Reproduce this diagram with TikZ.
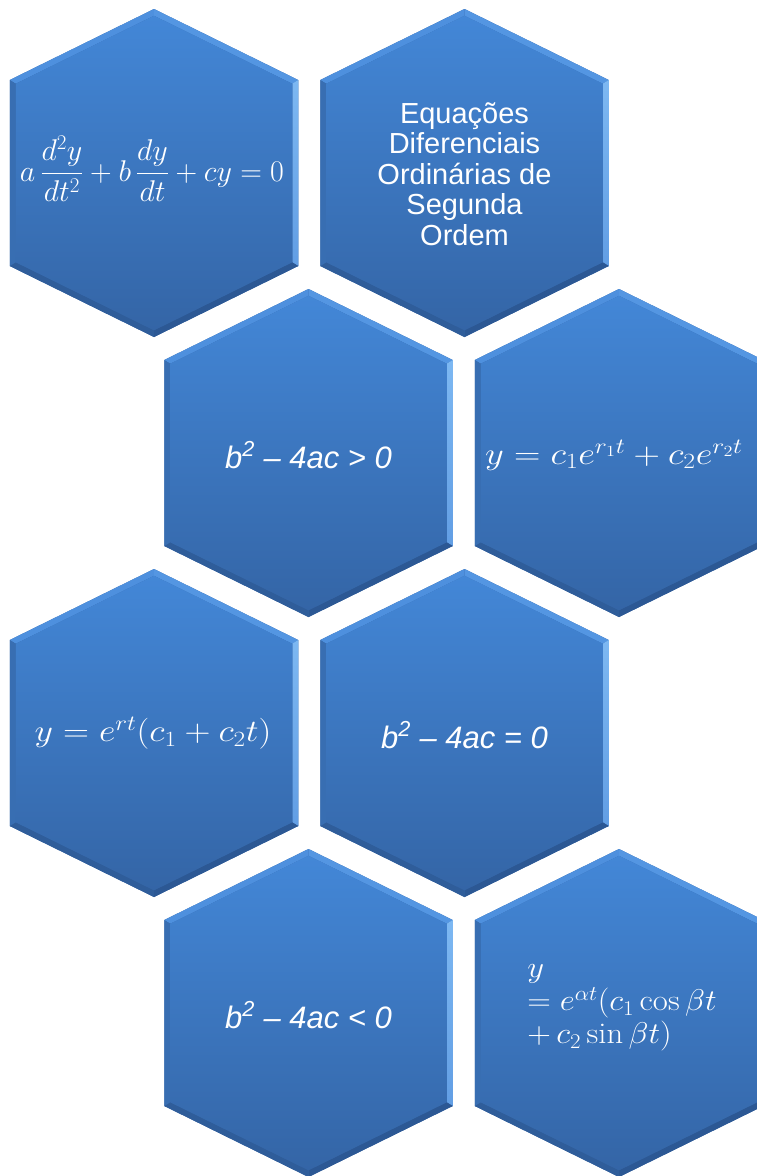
\documentclass[tikz,border=0pt]{standalone}
\usepackage{fix-cm}
\usepackage{amsmath}
\usepackage{fontspec}
\newfontfamily\arialfont{Liberation Sans}
\definecolor{hextop}{RGB}{67,135,215}
\definecolor{hexbot}{RGB}{52,101,166}
\definecolor{bevUL}{RGB}{78,144,222}
\definecolor{bevUR}{RGB}{84,150,226}
\definecolor{bevRt}{RGB}{125,184,242}
\definecolor{bevRb}{RGB}{98,158,228}
\definecolor{bevLR}{RGB}{44,88,148}
\definecolor{bevLL}{RGB}{47,93,154}
\definecolor{bevL}{RGB}{56,110,178}
\tikzset{
  celltext/.style={text=white, inner sep=0pt, font=\fontsize{31}{35}\selectfont},
  sanstext/.style={text=white, inner sep=0pt, font=\arialfont\fontsize{29}{30.6}\selectfont},
  condtext/.style={text=white, inner sep=0pt, font=\arialfont\itshape\fontsize{31}{33}\selectfont},
}
\newcommand\hexcell[2]{%
  \begin{scope}[shift={(#1,#2)}]
    \fill[hexbot] (0,-164) -- (144.25,-93) -- (144.25,93) -- (0,164) -- (-144.25,93) -- (-144.25,-93) -- cycle;
    \fill[bevUL] (-144.25,-93) -- (0,-164) -- (0,-157.3) -- (-138.25,-89.3) -- cycle;
    \fill[bevUR] (0,-164) -- (144.25,-93) -- (138.25,-89.3) -- (0,-157.3) -- cycle;
    \shade[top color=bevRt, bottom color=bevRb] (144.25,-93) -- (144.25,93) -- (138.25,89.3) -- (138.25,-89.3) -- cycle;
    \fill[bevLR] (144.25,93) -- (0,164) -- (0,157.3) -- (138.25,89.3) -- cycle;
    \fill[bevLL] (0,164) -- (-144.25,93) -- (-138.25,89.3) -- (0,157.3) -- cycle;
    \fill[bevL] (-144.25,93) -- (-144.25,-93) -- (-138.25,-89.3) -- (-138.25,89.3) -- cycle;
    \shade[top color=hextop, bottom color=hexbot] (0,-157.3) -- (138.25,-89.3) -- (138.25,89.3) -- (0,157.3) -- (-138.25,89.3) -- (-138.25,-89.3) -- cycle;
  \end{scope}}
\begin{document}
\begin{tikzpicture}[x=1pt,y=-1pt]
\useasboundingbox (0,0) rectangle (757,1176);
\clip (0,0) rectangle (757,1176);
\hexcell{154}{173}
\hexcell{464.5}{173}
\hexcell{308.5}{453}
\hexcell{619}{453}
\hexcell{154}{733}
\hexcell{464.5}{733}
\hexcell{308.5}{1013}
\hexcell{619}{1013}
\node[celltext, font=\fontsize{30}{34}\selectfont] (eq) at (152,169) {$a\,\dfrac{d^2y}{dt^2}+b\,\dfrac{dy}{dt}+cy=0$};
\node[sanstext, align=center] (title) at (464.5,174) {Equações\\Diferenciais\\Ordinárias de\\Segunda\\Ordem};
\node[condtext] (pos) at (308.5,455) {b\textsuperscript{2} – 4ac > 0};
\node[celltext] (solpos) at (614,455) {\scalebox{1.18}[1]{$y=c_1e^{r_1t}+c_2e^{r_2t}$}};
\node[celltext] (solzero) at (153,733) {\scalebox{1.16}[1]{$y=e^{rt}(c_1+c_2t)$}};
\node[condtext] (zero) at (464.5,735) {b\textsuperscript{2} – 4ac = 0};
\node[condtext] (neg) at (308.5,1015) {b\textsuperscript{2} – 4ac < 0};
\node[celltext, font=\fontsize{30}{33}\selectfont] (solneg) at (622,1004) {\scalebox{1.09}[1]{$\begin{array}{@{}l@{}} y\\ =e^{\alpha t}(c_1\cos\beta t\\ +\,c_2\sin\beta t)\end{array}$}};
\end{tikzpicture}
\end{document}
